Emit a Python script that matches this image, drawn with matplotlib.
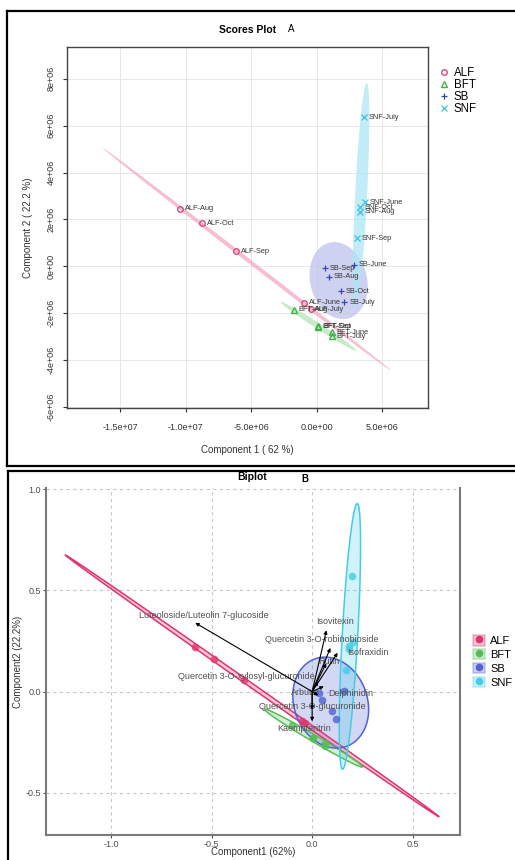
import numpy as np
import matplotlib.pyplot as plt
from matplotlib.lines import Line2D
from matplotlib.patches import Patch
from matplotlib.legend_handler import HandlerTuple

plt.rcParams['font.family'] = ['Liberation Sans', 'DejaVu Sans']

# ---- data: scores plot (A) ----
groups = ['ALF', 'BFT', 'SB', 'SNF']

alf_names = ['ALF-Aug', 'ALF-Oct', 'ALF-Sep', 'ALF-June', 'ALF-July']
alf_x = [-1.04e7, -8.73e6, -6.18e6, -9.9e5, -4.8e5]
alf_y = [2.45e6, 1.83e6, 6.4e5, -1.55e6, -1.83e6]

bft_names = ['BFT-Aug', 'BFT-Sep', 'BFT-Oct', 'BFT-June', 'BFT-July']
bft_x = [-1.76e6, 5e4, 1e5, 1.12e6, 1.12e6]
bft_y = [-1.86e6, -2.58e6, -2.55e6, -2.82e6, -2.97e6]

sb_names = ['SB-Sep', 'SB-Aug', 'SB-Oct', 'SB-July', 'SB-June']
sb_x = [6.1e5, 9.2e5, 1.81e6, 2.1e6, 2.85e6]
sb_y = [-7e4, -4.4e5, -1.06e6, -1.52e6, 6e4]

snf_names = ['SNF-July', 'SNF-June', 'SNF-Oct', 'SNF-Aug', 'SNF-Sep']
snf_x = [3.59e6, 3.66e6, 3.28e6, 3.28e6, 3.03e6]
snf_y = [6.37e6, 2.74e6, 2.52e6, 2.33e6, 1.19e6]

# ---- data: biplot (B) ----
b_alf_x = [-0.581, -0.486, -0.340, -0.051, -0.033]
b_alf_y = [0.221, 0.163, 0.059, -0.147, -0.155]
b_bft_x = [-0.098, 0.003, 0.006, 0.062, 0.062]
b_bft_y = [-0.167, -0.232, -0.230, -0.254, -0.267]
b_sb_x = [0.034, 0.051, 0.101, 0.117, 0.159]
b_sb_y = [-0.006, -0.040, -0.095, -0.137, 0.005]
b_snf_x = [0.200, 0.204, 0.183, 0.183, 0.169]
b_snf_y = [0.573, 0.247, 0.227, 0.210, 0.107]

load_names = ['Luteoloside/Luteolin 7-glucoside', 'Isovitexin',
              'Quercetin 3-O-robinobioside', 'Isofraxidin', 'Rutin',
              'Quercetin 3-O-xylosyl-glucuronide', 'Arbutin', 'Delphinidin',
              'Quercetin 3-O-glucuronide', 'Kaempferitrin']
load_x = [-0.581, 0.071, 0.091, 0.127, 0.07, 0.03, 0.03, 0.058, 0.0, 0.0]
load_y = [0.34, 0.303, 0.216, 0.192, 0.14, 0.05, -0.02, 0.026, -0.09, -0.147]
label_x = [-0.539, 0.116, 0.05, 0.278, 0.085, -0.325, -0.033, 0.19, 0.003, -0.038]
label_y = [0.376, 0.345, 0.256, 0.195, 0.15, 0.073, -0.003, -0.01, -0.076, -0.185]


def conf_ellipse(xs, ys, r, n=300):
    pts = np.column_stack([xs, ys])
    m = pts.mean(axis=0)
    vals, vecs = np.linalg.eigh(np.cov(pts, rowvar=False))
    t = np.linspace(0, 2 * np.pi, n)
    circ = np.vstack([np.cos(t), np.sin(t)])
    return (m[:, None] + r * vecs @ (np.sqrt(vals)[:, None] * circ)).T


fig = plt.figure(figsize=(5.15, 8.6), dpi=100)

# panel frames
for (x0, x1, y0, y1) in [(0.0136, 1.0, 0.9872, 0.9872), (0.0136, 0.0136, 0.9872, 0.4581),
                         (0.0136, 1.0, 0.4581, 0.4581), (0.0155, 1.0, 0.4523, 0.4523),
                         (0.0155, 0.0155, 0.4523, 0.0)]:
    fig.add_artist(Line2D([x0, x1], [y0, y1], transform=fig.transFigure, color='black', lw=1.6))

# ================= A: Scores plot =================
ax = fig.add_axes([0.1301, 0.5256, 0.701, 0.4198])
a_cols = {'ALF': '#DB4A77', 'BFT': '#3DB54A', 'SB': '#3445B0', 'SNF': '#3CC3E0'}
a_fill = {'ALF': '#F3A9BE', 'BFT': '#B8E4B8', 'SB': '#BFC2EC', 'SNF': '#AEE6F6'}
a_mark = {'ALF': 'o', 'BFT': '^', 'SB': '+', 'SNF': 'x'}
a_data = {'ALF': (alf_names, alf_x, alf_y), 'BFT': (bft_names, bft_x, bft_y),
          'SB': (sb_names, sb_x, sb_y), 'SNF': (snf_names, snf_x, snf_y)}

for g in groups:
    names, xs, ys = a_data[g]
    e = conf_ellipse(xs, ys, 2.4477)
    ax.fill(e[:, 0], e[:, 1], color=a_fill[g], alpha=0.75, lw=0, zorder=1)
for g in groups:
    names, xs, ys = a_data[g]
    if a_mark[g] in ('o', '^'):
        ax.plot(xs, ys, a_mark[g], mfc='none', mec=a_cols[g], ms=4, mew=1, ls='', zorder=3)
    else:
        ax.plot(xs, ys, a_mark[g], color=a_cols[g], ms=5, mew=0.9, ls='', zorder=3)
    for n, x, y in zip(names, xs, ys):
        ax.annotate(n, (x, y), xytext=(3.5, 0), textcoords='offset points',
                    va='center', ha='left', fontsize=5.3, color='#333333', zorder=4)

ax.set_xlim(-1.905e7, 8.47e6)
ax.set_ylim(-6.04e6, 9.36e6)
xt = [-1.5e7, -1e7, -5e6, 0, 5e6]
yt = [-6e6, -4e6, -2e6, 0, 2e6, 4e6, 6e6, 8e6]
ax.set_xticks(xt, ['-1.5e+07', '-1.0e+07', '-5.0e+06', '0.0e+00', '5.0e+06'])
ax.set_yticks(yt, ['-6e+06', '-4e+06', '-2e+06', '0e+00', '2e+06', '4e+06', '6e+06', '8e+06'])
for lab in ax.get_yticklabels():
    lab.set_rotation(90)
    lab.set_va('center')
ax.tick_params(axis='x', length=3, width=0.8, pad=8, labelsize=6.5, colors='#333333')
ax.tick_params(axis='y', length=3, width=0.8, pad=5, labelsize=6.5, colors='#333333')
ax.grid(True, color='#e3e3e3', lw=0.6)
ax.set_axisbelow(True)
for s in ax.spines.values():
    s.set_color('#444444')
    s.set_linewidth(1.0)
ax.set_xlabel('Component 1 ( 62 %)', fontsize=7, color='#333333')
ax.xaxis.set_label_coords(0.5, -0.1025)
ax.set_ylabel('Component 2 ( 22.2 %)', fontsize=7, color='#333333')
ax.yaxis.set_label_coords(-0.094, 0.5)
ax.text(0.5, 1.047, 'Scores Plot', transform=ax.transAxes, ha='center', va='center',
        fontsize=7.5, fontweight='bold')
ax.text(0.622, 1.049, 'A', transform=ax.transAxes, ha='center', va='center', fontsize=7)

a_handles = []
for g in groups:
    if a_mark[g] in ('o', '^'):
        a_handles.append(Line2D([], [], marker=a_mark[g], mfc='none', mec=a_cols[g], ms=4, mew=1, ls=''))
    else:
        a_handles.append(Line2D([], [], marker=a_mark[g], color=a_cols[g], ms=5, mew=0.9, ls=''))
fig.legend(a_handles, groups, loc='upper left', bbox_to_anchor=(0.854, 0.9225),
           frameon=False, fontsize=8.3, handlelength=0.8, handletextpad=0.4,
           labelspacing=0.02, borderpad=0, borderaxespad=0)

# ================= B: Biplot =================
bx = fig.add_axes([0.0893, 0.0291, 0.8039, 0.4031])
b_cols = {'ALF': '#E2336B', 'BFT': '#55BD55', 'SB': '#4F62D6', 'SNF': '#45CCE6'}
b_data = {'ALF': (b_alf_x, b_alf_y), 'BFT': (b_bft_x, b_bft_y),
          'SB': (b_sb_x, b_sb_y), 'SNF': (b_snf_x, b_snf_y)}

for g in groups:
    xs, ys = b_data[g]
    e = conf_ellipse(xs, ys, 3.727)
    bx.fill(e[:, 0], e[:, 1], facecolor=b_cols[g], alpha=0.25, lw=0, zorder=1)
    bx.plot(e[:, 0], e[:, 1], color=b_cols[g], lw=1.1, zorder=2)
for g in groups:
    xs, ys = b_data[g]
    bx.plot(xs, ys, 'o', color=b_cols[g], ms=5.5, alpha=0.8, mew=0, ls='', zorder=3)

for n, x, y, tx, ty in zip(load_names, load_x, load_y, label_x, label_y):
    bx.annotate('', xy=(x, y), xytext=(0, 0),
                arrowprops=dict(arrowstyle='-|>', color='black', lw=0.8, mutation_scale=5,
                                shrinkA=0, shrinkB=0), zorder=5)
    bx.text(tx, ty, n, ha='center', va='center', fontsize=6.5, color='#505050', zorder=4)

bx.set_xlim(-1.323, 0.735)
bx.set_ylim(-0.709, 1.005)
bx.set_xticks([-1.0, -0.5, 0.0, 0.5], ['-1.0', '-0.5', '0.0', '0.5'])
bx.set_yticks([-0.5, 0.0, 0.5, 1.0], ['-0.5', '0.0', '0.5', '1.0'])
bx.tick_params(length=2, width=0.8, pad=1.5, labelsize=6.5, colors='#4d4d4d')
bx.grid(True, color='#c8c8c8', lw=0.8, ls=(0, (3, 3)))
bx.set_axisbelow(True)
for s in bx.spines.values():
    s.set_color('#7a7a7a')
    s.set_linewidth(1.5)
bx.spines['top'].set_visible(False)
bx.set_xlabel('Component1 (62%)', fontsize=7, color='#333333')
bx.xaxis.set_label_coords(0.5, -0.034)
bx.set_ylabel('Component2 (22.2%)', fontsize=7, color='#333333')
bx.yaxis.set_label_coords(-0.0556, 0.5)
bx.text(0.498, 1.033, 'Biplot', transform=bx.transAxes, ha='center', va='center',
        fontsize=7.5, fontweight='bold')
bx.text(0.626, 1.028, 'B', transform=bx.transAxes, ha='center', va='center',
        fontsize=7, fontweight='bold')

b_handles = [(Patch(facecolor=b_cols[g], alpha=0.3, edgecolor=b_cols[g], lw=1.2),
              Line2D([], [], marker='o', color=b_cols[g], ms=5.5, ls='', mew=0))
             for g in groups]
fig.legend(b_handles, groups, loc='upper left', bbox_to_anchor=(0.918, 0.2617),
           frameon=False, fontsize=8, handlelength=1.1, handleheight=1.1,
           handletextpad=0.45, labelspacing=0.25, borderpad=0, borderaxespad=0,
           handler_map={tuple: HandlerTuple(ndivide=1)})

fig.savefig('out.png', dpi=100)
